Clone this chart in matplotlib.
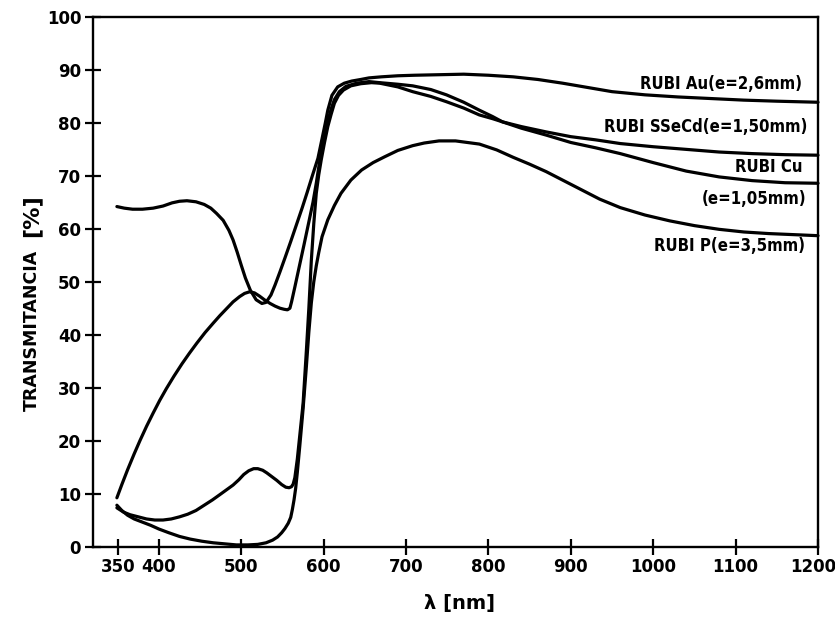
import matplotlib
matplotlib.use("Agg")
import matplotlib.pyplot as plt
from matplotlib.transforms import ScaledTranslation

# Transmittance spectra of ruby glasses (wavelength in nm, transmittance in %)
wl_au = [349, 358, 368, 380, 393, 405, 416, 425, 434, 445, 455, 463, 470, 478,
         485, 490, 495, 500, 505, 511, 518, 525, 530, 536, 541, 547, 553, 560,
         567, 574, 580, 586, 593, 598, 602, 605, 610, 617, 625, 634, 645, 655,
         670, 690, 710, 740, 770, 800, 830, 860, 890, 920, 950, 990, 1030, 1070,
         1110, 1150, 1200]
t_au = [64.2, 63.9, 63.7, 63.7, 63.9, 64.3, 64.9, 65.2, 65.3, 65.1, 64.6, 63.9,
        62.9, 61.6, 59.7, 57.9, 55.6, 53.1, 50.7, 48.4, 46.6, 45.9, 46.1, 47.5,
        49.4, 51.9, 54.5, 57.6, 60.8, 64.0, 66.9, 69.9, 73.3, 77.0, 80.0, 82.4,
        85.2, 86.8, 87.5, 87.9, 88.2, 88.5, 88.7, 88.9, 89.0, 89.1, 89.2, 89.0,
        88.7, 88.2, 87.5, 86.7, 85.9, 85.3, 84.9, 84.6, 84.3, 84.1, 83.9]

wl_ssecd = [349, 357, 365, 375, 385, 395, 405, 415, 425, 435, 445, 455, 465, 474,
            482, 490, 497, 503, 509, 515, 520, 526, 531, 537, 543, 549, 554, 558,
            561, 563, 565, 568, 571, 575, 579, 582, 585, 588, 591, 594, 597, 601,
            605, 609, 613, 618, 624, 633, 645, 658, 668, 690, 708, 730, 749, 770,
            789, 805, 817, 840, 870, 900, 930, 960, 1000, 1040, 1080, 1120, 1160,
            1200]
t_ssecd = [7.3, 6.5, 6.0, 5.6, 5.2, 5.0, 5.0, 5.2, 5.6, 6.1, 6.8, 7.8, 8.8, 9.8,
           10.7, 11.6, 12.6, 13.6, 14.3, 14.7, 14.7, 14.4, 13.9, 13.2, 12.5, 11.7,
           11.2, 11.1, 11.3, 11.8, 13.0, 16.5, 21.0, 27.0, 37.0, 45.0, 54.0, 61.0,
           66.7, 70.2, 73.0, 76.3, 79.3, 81.6, 83.7, 85.2, 86.2, 87.0, 87.4, 87.6,
           87.5, 86.8, 85.9, 85.0, 84.0, 82.8, 81.5, 80.8, 80.2, 79.3, 78.3, 77.4,
           76.8, 76.1, 75.5, 75.0, 74.5, 74.2, 74.0, 73.9]

wl_cu = [349, 355, 362, 370, 377, 385, 393, 401, 409, 418, 428, 437, 446, 456,
         466, 474, 482, 490, 498, 504, 510, 516, 522, 528, 535, 541, 547, 552,
         556, 559, 561, 565, 570, 576, 582, 587, 591, 594, 597, 601, 605, 609,
         613, 619, 627, 640, 655, 668, 690, 708, 730, 749, 770, 789, 805, 817,
         840, 870, 900, 930, 960, 1000, 1040, 1080, 1120, 1160, 1200]
t_cu = [9.2, 11.7, 14.5, 17.5, 20.0, 22.7, 25.2, 27.6, 29.8, 32.1, 34.5, 36.5,
        38.4, 40.4, 42.2, 43.6, 44.9, 46.2, 47.2, 47.8, 48.1, 47.9, 47.3, 46.6,
        45.9, 45.4, 45.0, 44.8, 44.7, 45.0, 46.2, 49.0, 52.6, 56.9, 61.3, 65.0,
        68.6, 71.6, 74.5, 77.6, 80.3, 82.6, 84.4, 85.9, 86.9, 87.5, 87.8, 87.6,
        87.3, 87.0, 86.3, 85.3, 83.9, 82.4, 81.2, 80.2, 79.0, 77.7, 76.3, 75.3,
        74.2, 72.5, 70.9, 69.8, 69.1, 68.7, 68.6]

wl_p = [349, 355, 362, 370, 380, 390, 400, 412, 425, 438, 452, 466, 480, 494,
        508, 520, 530, 538, 544, 549, 553, 557, 560, 562, 564, 566, 568, 571,
        575, 579, 582, 585, 588, 591, 594, 598, 605, 613, 621, 633, 646, 660,
        674, 690, 708, 722, 740, 760, 789, 810, 830, 850, 870, 890, 910, 935,
        960, 990, 1020, 1050, 1080, 1110, 1140, 1170, 1200]
t_p = [7.8, 6.8, 5.9, 5.2, 4.6, 4.0, 3.3, 2.6, 1.9, 1.4, 1.0, 0.7, 0.5, 0.3,
       0.3, 0.4, 0.7, 1.2, 1.8, 2.6, 3.4, 4.4, 5.5, 7.0, 8.8, 11.0, 14.0, 19.0,
       26.0, 34.0, 40.5, 46.0, 50.0, 53.0, 55.5, 58.5, 61.7, 64.4, 66.7, 69.2,
       71.1, 72.5, 73.6, 74.8, 75.7, 76.2, 76.6, 76.6, 76.0, 74.9, 73.5, 72.2,
       70.8, 69.2, 67.6, 65.6, 64.0, 62.6, 61.5, 60.6, 59.9, 59.4, 59.1, 58.9,
       58.7]

series = [(wl_au, t_au), (wl_ssecd, t_ssecd), (wl_cu, t_cu), (wl_p, t_p)]

# Curve captions: text, wavelength of right edge, transmittance of centre
label_texts = ["RUBI Au(e=2,6mm)", "RUBI SSeCd(e=1,50mm)", "RUBI Cu",
               "(e=1,05mm)", "RUBI P(e=3,5mm)"]
label_wl = [1181, 1187, 1181, 1186, 1184]
label_t = [87.4, 79.3, 71.6, 65.6, 56.7]

x_ticks = [350, 400, 500, 600, 700, 800, 900, 1000, 1100, 1200]
y_ticks = [0, 10, 20, 30, 40, 50, 60, 70, 80, 90, 100]

W, H = 835, 620
fig = plt.figure(figsize=(W / 100, H / 100), dpi=100)
ax = fig.add_axes([93 / W, 1 - 546.5 / H, (818 - 93) / W, (546.5 - 17) / H])

for wl, t in series:
    ax.plot(wl, t, color="black", lw=2.3, solid_joinstyle="round",
            solid_capstyle="round", clip_on=False)

ax.set_xlim(320, 1200)
ax.set_ylim(0, 100)
ax.set_xticks(x_ticks)
ax.set_yticks(y_ticks)
ax.tick_params(direction="inout", length=11, width=1.6, labelsize=12,
               pad=3)
for lab in ax.get_xticklabels() + ax.get_yticklabels():
    lab.set_fontweight("bold")
# keep the last wavelength label inside the canvas
last = ax.get_xticklabels()[-1]
last.set_transform(last.get_transform()
                   + ScaledTranslation(-5 / 100, 0, fig.dpi_scale_trans))
for s in ax.spines.values():
    s.set_linewidth(1.7)

for txt, x, y in zip(label_texts, label_wl, label_t):
    ax.text(x, y, txt, ha="right", va="center", fontsize=12,
            fontweight="bold", fontstretch="condensed")

fig.text(32 / W, 1 - 330 / H, "TRANSMITANCIA", rotation=90, ha="center",
         va="center", fontsize=12.5, fontweight="bold")
fig.text(31 / W, 1 - 216 / H, "[%]", rotation=90, ha="center", va="center",
         fontsize=16, fontweight="bold")
fig.text(460 / W, 1 - 603 / H, "λ [nm]", ha="center", va="center",
         fontsize=14, fontweight="bold")

fig.savefig("out.png", dpi=100)
